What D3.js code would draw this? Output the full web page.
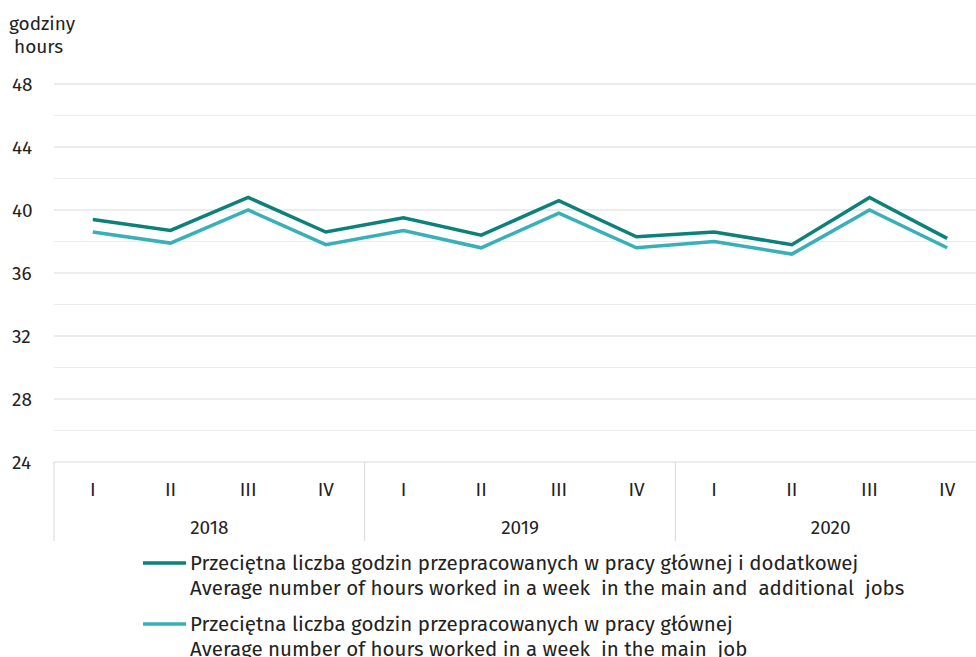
<!DOCTYPE html>
<html>
<head>
<meta charset="utf-8">
<script src="https://cdn.jsdelivr.net/npm/d3@7"></script>
<style>
  body { margin: 0; background: #fff; }
  svg { display: block; font-family: "Fira Sans", "Open Sans", sans-serif; }
</style>
</head>
<body>
<div id="chart"></div>
<script>
const years = ["2018", "2019", "2020"];
const quarters = ["I", "II", "III", "IV"];
const mainAndAdditional = [39.4, 38.7, 40.8, 38.6, 39.5, 38.4, 40.6, 38.3, 38.6, 37.8, 40.8, 38.2];
const mainOnly = [38.6, 37.9, 40.0, 37.8, 38.7, 37.6, 39.8, 37.6, 38.0, 37.2, 40.0, 37.6];
const yTicks = [24, 28, 32, 36, 40, 44, 48];
const legendLabels = [
  ["Przeciętna liczba godzin przepracowanych w pracy głównej i dodatkowej",
   "Average number of hours worked in a week  in the main and  additional  jobs"],
  ["Przeciętna liczba godzin przepracowanych w pracy głównej",
   "Average number of hours worked in a week  in the main  job"]
];
const colors = ["#0b8179", "#38b0b9"];

const width = 976, height = 657;
const svg = d3.select("#chart").append("svg").attr("width", width).attr("height", height);

const keys = [];
years.forEach((y) => quarters.forEach((q) => keys.push(y + "-" + q)));

const x = d3.scaleBand().domain(keys).range([54, 986]);
const y = d3.scaleLinear().domain([24, 48]).range([462, 84]);

// grid
svg.append("g")
  .selectAll("line")
  .data(d3.range(26, 49, 2))
  .join("line")
  .attr("x1", 54).attr("x2", width)
  .attr("y1", (d) => y(d)).attr("y2", (d) => y(d))
  .attr("stroke", (d) => (d % 4 === 0 ? "#d9d9d9" : "#ececec"))
  .attr("stroke-width", 1);

// y labels
svg.append("g")
  .selectAll("text")
  .data(yTicks)
  .join("text")
  .attr("x", 12).attr("y", (d) => y(d))
  .attr("dy", "0.35em")
  .attr("font-size", 19).attr("fill", "#222")
  .text((d) => d);

svg.append("text").attr("x", 9).attr("y", 30).attr("font-size", 19).attr("fill", "#222").text("godziny");
svg.append("text").attr("x", 14).attr("y", 53).attr("font-size", 19).attr("fill", "#222").text("hours");

// x axis frame
svg.append("line").attr("x1", 54).attr("x2", width).attr("y1", 462).attr("y2", 462).attr("stroke", "#d9d9d9");
const seps = [0, 4, 8].map((i) => x(keys[i]));
svg.append("g")
  .selectAll("line")
  .data(seps)
  .join("line")
  .attr("x1", (d) => d).attr("x2", (d) => d)
  .attr("y1", 462).attr("y2", 541)
  .attr("stroke", "#d9d9d9");

svg.append("g")
  .selectAll("text")
  .data(keys)
  .join("text")
  .attr("x", (d) => x(d) + x.bandwidth() / 2)
  .attr("y", 489).attr("dy", "0.35em")
  .attr("text-anchor", "middle")
  .attr("font-size", 19).attr("fill", "#222")
  .text((d) => d.split("-")[1]);

svg.append("g")
  .selectAll("text")
  .data(years)
  .join("text")
  .attr("x", (d, i) => x(keys[i * 4]) + x.bandwidth() * 2)
  .attr("y", 527).attr("dy", "0.35em")
  .attr("text-anchor", "middle")
  .attr("font-size", 19).attr("fill", "#222")
  .text((d) => d);

// lines
const line = d3.line()
  .x((d, i) => x(keys[i]) + x.bandwidth() / 2)
  .y((d) => y(d));

[mainAndAdditional, mainOnly].forEach((s, i) => {
  svg.append("path")
    .datum(s)
    .attr("fill", "none")
    .attr("stroke", colors[i])
    .attr("stroke-width", 3.5)
    .attr("stroke-linejoin", "miter")
    .attr("d", line);
});

// legend
const legend = svg.append("g");
legendLabels.forEach((lines, i) => {
  const ly = 563 + i * 61;
  legend.append("line")
    .attr("x1", 143).attr("x2", 186)
    .attr("y1", ly).attr("y2", ly)
    .attr("stroke", colors[i]).attr("stroke-width", 3.5);
  lines.forEach((t, j) => {
    legend.append("text")
      .attr("x", 190).attr("y", ly + j * 25).attr("dy", "0.35em")
      .attr("font-size", 20.5).attr("fill", "#222")
      .style("white-space", "pre")
      .text(t);
  });
});
</script>
</body>
</html>
